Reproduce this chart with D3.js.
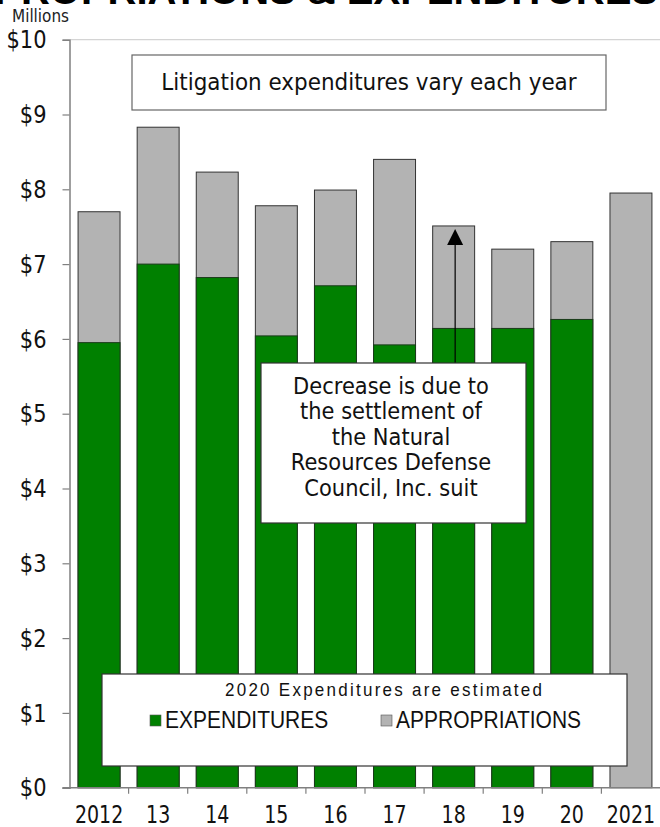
<!DOCTYPE html>
<html>
<head>
<meta charset="utf-8">
<script src="https://cdn.jsdelivr.net/npm/d3@7"></script>
<style>
  html, body { margin: 0; padding: 0; background: #fff; }
  svg { display: block; }
</style>
</head>
<body>
<div id="chart"></div>
<script>
// ---- data ----
const categories = ["2012", "13", "14", "15", "16", "17", "18", "19", "20", "2021"];
const expenditures = [5.95, 7.00, 6.82, 6.04, 6.71, 5.92, 6.14, 6.14, 6.26, 0];
const appropriations = [7.70, 8.83, 8.23, 7.78, 7.99, 8.40, 7.51, 7.20, 7.30, 7.95];
const yTickValues = [0, 1, 2, 3, 4, 5, 6, 7, 8, 9, 10];
const seriesNames = ["EXPENDITURES", "APPROPRIATIONS"];
const titleText = "LITIGATION APPROPRIATIONS & EXPENDITURES";
const unitText = "Millions";
const topNote = "Litigation expenditures vary each year";
const noteLines = ["Decrease is due to", "the settlement of", "the Natural", "Resources Defense", "Council, Inc. suit"];
const legendNote = "2020 Expenditures are estimated";

const W = 660, H = 827;
const GREEN = "#008000", GRAY = "#b3b3b3";
const VFONT = "'DejaVu Sans', Verdana, sans-serif";
const AFONT = "'Liberation Sans', Arial, sans-serif";

const svg = d3.select("#chart").append("svg").attr("width", W).attr("height", H);

const x = d3.scaleBand().domain(categories).range([69.5, 660.5]).paddingInner(0.29).paddingOuter(0.145);
const y = d3.scaleLinear().domain([0, 10]).range([787.7, 39.7]);

// clipped title at top
svg.append("text").attr("x", 658).attr("y", 3.5).attr("text-anchor", "end")
  .attr("font-family", AFONT).attr("font-weight", "bold").attr("font-size", 40)
  .attr("fill", "#000").text(titleText);

// units label
svg.append("text").attr("transform", "translate(12,22) scale(1,1.15)")
  .attr("font-family", VFONT).attr("font-size", 15)
  .attr("textLength", 57).attr("lengthAdjust", "spacingAndGlyphs")
  .attr("fill", "#222").text(unitText);

// top gridline
svg.append("line").attr("x1", x.range()[0]).attr("x2", W).attr("y1", y(10)).attr("y2", y(10))
  .attr("stroke", "#d4d4d4").attr("stroke-width", 1.2);

// bars
const data = categories.map((c, i) => ({ c, e: expenditures[i], a: appropriations[i] }));
svg.append("g").selectAll("rect").data(data).join("rect")
  .attr("x", d => x(d.c)).attr("width", x.bandwidth())
  .attr("y", d => y(d.a)).attr("height", d => y(0) - y(d.a))
  .attr("fill", GRAY).attr("stroke", "#333").attr("stroke-width", 1);
svg.append("g").selectAll("rect").data(data.filter(d => d.e > 0)).join("rect")
  .attr("x", d => x(d.c)).attr("width", x.bandwidth())
  .attr("y", d => y(d.e)).attr("height", d => y(0) - y(d.e))
  .attr("fill", GREEN).attr("stroke", "#1a3a1a").attr("stroke-width", 1);

// y axis
const yAxis = svg.append("g").attr("transform", `translate(${x.range()[0]},0)`)
  .call(d3.axisLeft(y).tickValues(yTickValues).tickSize(7).tickFormat(d => "$" + d));
yAxis.select(".domain").attr("stroke", "#808080").attr("stroke-width", 1.5);
yAxis.selectAll(".tick line").attr("stroke", "#808080").attr("stroke-width", 1.2);
yAxis.selectAll(".tick text").attr("x", 0).attr("dy", "0.34em")
  .attr("transform", "translate(-23,0) scale(1,1.15)")
  .attr("font-family", VFONT).attr("font-size", 21).attr("fill", "#111");

// x axis
const xAxisG = svg.append("g").attr("transform", `translate(0,${y(0)})`);
xAxisG.append("line").attr("x1", x.range()[0] - 7).attr("x2", W).attr("y1", 0).attr("y2", 0)
  .attr("stroke", "#808080").attr("stroke-width", 1.5);
xAxisG.selectAll("line.tk").data(categories.slice(1)).join("line").attr("class", "tk")
  .attr("x1", d => x(d) - x.step() * x.paddingInner() / 2)
  .attr("x2", d => x(d) - x.step() * x.paddingInner() / 2)
  .attr("y1", 0).attr("y2", 6).attr("stroke", "#808080").attr("stroke-width", 1.2);
xAxisG.selectAll("text").data(categories).join("text")
  .attr("transform", d => `translate(${x(d) + x.bandwidth() / 2},35) scale(0.95,1.2)`)
  .attr("text-anchor", "middle")
  .attr("font-family", VFONT).attr("font-size", 20).attr("fill", "#111").text(d => d);

// top note box
svg.append("rect").attr("x", 132).attr("y", 55).attr("width", 474).attr("height", 55)
  .attr("fill", "#fff").attr("stroke", "#666").attr("stroke-width", 1.2);
svg.append("text").attr("transform", "translate(369,90) scale(1,1.07)").attr("text-anchor", "middle")
  .attr("font-family", VFONT).attr("font-size", 21.5).attr("fill", "#111").text(topNote);

// arrow to 2018
const ax = x("18") + x.bandwidth() / 2 + 1.5;
const tipY = y(appropriations[6]) + 3;
svg.append("line").attr("x1", ax).attr("x2", ax).attr("y1", 363).attr("y2", tipY + 14)
  .attr("stroke", "#000").attr("stroke-width", 1.2);
svg.append("path").attr("d", `M${ax},${tipY} L${ax - 8},${tipY + 16} L${ax + 8},${tipY + 16} Z`).attr("fill", "#000");

// decrease note box
svg.append("rect").attr("x", 261).attr("y", 363).attr("width", 265).attr("height", 160)
  .attr("fill", "#fff").attr("stroke", "#333").attr("stroke-width", 1.2);
svg.append("g").selectAll("text").data(noteLines).join("text")
  .attr("transform", (d, i) => `translate(391,${393.5 + i * 25.5}) scale(1,1.08)`)
  .attr("text-anchor", "middle")
  .attr("font-family", VFONT).attr("font-size", 21).attr("fill", "#111").text(d => d);

// legend box
svg.append("rect").attr("x", 102).attr("y", 674).attr("width", 525).attr("height", 92)
  .attr("fill", "#fff").attr("stroke", "#333").attr("stroke-width", 1.2);
svg.append("text").attr("transform", "translate(225,696) scale(1,1.1)")
  .attr("font-family", AFONT).attr("font-size", 17)
  .attr("textLength", 317).attr("lengthAdjust", "spacing").attr("fill", "#111").text(legendNote);
const legendItems = [
  { name: seriesNames[0], color: GREEN, sx: 150, tx: 165 },
  { name: seriesNames[1], color: GRAY, sx: 381, tx: 396 }
];
const lg = svg.append("g").selectAll("g").data(legendItems).join("g");
lg.append("rect").attr("x", d => d.sx).attr("y", 715).attr("width", 11).attr("height", 11)
  .attr("fill", d => d.color).attr("stroke", "#555").attr("stroke-width", 0.6);
lg.append("text").attr("transform", d => `translate(${d.tx},727.5) scale(1,1.1)`)
  .attr("font-family", AFONT).attr("font-size", 21)
  .attr("fill", "#111").text(d => d.name);
</script>
</body>
</html>
